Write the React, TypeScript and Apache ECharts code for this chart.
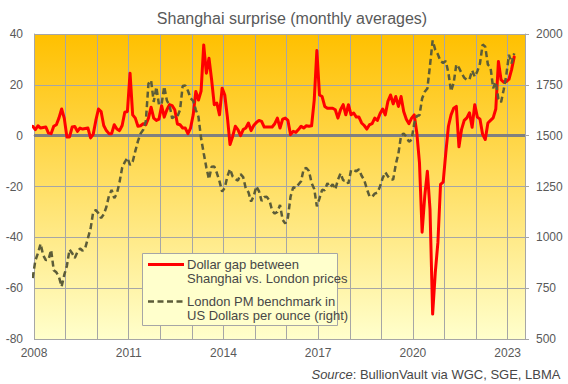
import React, { useEffect, useRef } from "react";
import * as echarts from "echarts";

const TITLE = "Shanghai surprise (monthly averages)";
const GAP_NAME = "Dollar gap between\nShanghai vs. London prices";
const GOLD_NAME = "London PM benchmark in\nUS Dollars per ounce (right)";
const SOURCE_ITALIC = "Source";
const SOURCE_REST = ": BullionVault via WGC, SGE, LBMA";

// first monthly observation (series run month by month from here)
const FIRST_YEAR = 2007;
const FIRST_MONTH = 12;

// Shanghai minus London gold price, US$ per ounce (left axis)
const dollarGap = [
  3.7, // Dec 2007
  2.4, 3.9, 3, 3.2, 3.4, 1, 0.8, 3.7, 4.3, 7, 10.5, 6.9, // 2008
  -0.5, -0.5, 3.4, 3.6, 1.7, 3, 2.6, 2.8, 3, -0.9, 0.5, 6, // 2009
  10.5, 9.5, 4, 2, 0.8, 0.8, 4.3, 2.6, 2, 4, 9.2, 9.5, // 2010
  24.6, 8.2, 6.9, 3.7, 3.9, 4.7, 4.3, 6.9, 11.2, 6.9, 6, 6.5, // 2011
  11.8, 7.3, 10.2, 12.2, 11.8, 10.2, 4.6, 4.3, 3, 3, 0.8, 3, // 2012
  8.2, 17.4, 14, 17.5, 35.7, 24.6, 30.5, 22, 12.2, 12.8, 8.2, 18.7, // 2013
  16, 7.3, -3.5, -0.3, 3.7, 2.4, 0, 2.4, 3, 5, 2, 4, // 2014
  5.2, 6, 5.6, 3.4, 3.4, 3.4, 3.4, 4.7, 6.9, 3, 6.5, 6.9, // 2015
  6, 0.4, 1.7, 1.3, 2.4, 3.7, 3, 3.9, 3.7, 3.9, 14, 33.5, // 2016
  16, 15.4, 11.5, 10.8, 10.8, 10.8, 10.2, 6.9, 10.2, 12.2, 8.2, 12.2, // 2017
  8.2, 8.9, 7.3, 7.3, 5, 4, 2.6, 4.3, 4.7, 6.9, 6, 8.6, // 2018
  10.5, 8.2, 13.5, 16, 12.5, 15.4, 11.5, 15.4, 9.5, 6.5, 4.7, 6.9, // 2019
  8.2, 1, -10.7, -38, -23.8, -14, -29, -70.2, -53.9, -42, -19.2, -18.3, // 2020
  -6.8, 3.7, 8.2, 10.8, 11.5, -4.4, 2.5, 6, 7, 9, 3.3, 12.2, // 2021
  7.3, 6.5, 0.5, -1.5, 5, 6, 7, 10.5, 29.2, 22, 21, 21.3, // 2022
  22.2, 26, 31, // 2023
];

// London PM gold benchmark, US$ per ounce, monthly average (right axis)
const londonPm = [
  800, // Dec 2007
  885, 922, 968, 912, 888, 890, 938, 838, 828, 805, 758, 815, // 2008
  860, 940, 922, 898, 928, 945, 934, 949, 996, 1043, 1125, 1134, // 2009
  1118, 1095, 1113, 1149, 1205, 1233, 1193, 1215, 1271, 1342, 1370, 1391, // 2010
  1356, 1372, 1424, 1473, 1510, 1529, 1572, 1756, 1772, 1666, 1739, 1652, // 2011
  1656, 1742, 1673, 1650, 1585, 1596, 1594, 1626, 1744, 1747, 1721, 1684, // 2012
  1671, 1627, 1593, 1487, 1414, 1343, 1286, 1347, 1349, 1316, 1275, 1225, // 2013
  1244, 1300, 1336, 1299, 1287, 1279, 1311, 1296, 1239, 1222, 1176, 1202, // 2014
  1251, 1227, 1179, 1198, 1199, 1181, 1131, 1117, 1125, 1159, 1086, 1068, // 2015
  1097, 1200, 1246, 1242, 1260, 1276, 1337, 1341, 1326, 1267, 1238, 1152, // 2016
  1192, 1234, 1231, 1266, 1246, 1260, 1236, 1283, 1315, 1280, 1282, 1265, // 2017
  1331, 1331, 1325, 1335, 1303, 1282, 1238, 1202, 1199, 1215, 1220, 1250, // 2018
  1291, 1320, 1300, 1285, 1284, 1359, 1413, 1500, 1511, 1495, 1470, 1480, // 2019
  1560, 1597, 1600, 1683, 1716, 1732, 1846, 1968, 1922, 1900, 1866, 1858, // 2020
  1867, 1808, 1718, 1760, 1850, 1834, 1807, 1785, 1775, 1777, 1821, 1790, // 2021
  1817, 1856, 1948, 1937, 1849, 1836, 1733, 1764, 1681, 1664, 1726, 1798, // 2022
  1898, 1855, 1905, // 2023
];

const labelYears = [2008, 2011, 2014, 2017, 2020, 2023];
const xRange = [2008, 2023.55];
const leftRange = [-80, 40, 20];
const rightRange = [500, 2000, 250];

const FONT = '"Liberation Sans", Arial, sans-serif';
const GRID = "#A6A6A6";
const AXIS_TEXT = "#595959";
const BODY_TEXT = "#474747";

// each monthly value sits in the middle of its month on the year axis
function monthPosition(k: number): number {
  const m0 = FIRST_MONTH - 1 + k;
  const year = FIRST_YEAR + Math.floor(m0 / 12);
  const month = m0 % 12;
  return year + (month + 0.5) / 12;
}

function buildOption(): any {
  const gapData = dollarGap.map((v, k) => [monthPosition(k), v]);
  const goldData = londonPm.map((v, k) => [monthPosition(k), v]);

  return {
    animation: false,
    backgroundColor: "#ffffff",
    textStyle: { fontFamily: FONT },
    title: {
      text: TITLE,
      left: 292,
      top: 10,
      textAlign: "center",
      padding: 0,
      textStyle: { fontSize: 16, fontWeight: "normal", color: AXIS_TEXT, fontFamily: FONT },
    },
    grid: {
      left: 34,
      right: 43,
      top: 34,
      bottom: 45,
      show: true,
      borderWidth: 0,
      backgroundColor: {
        type: "linear",
        x: 0,
        y: 0,
        x2: 0,
        y2: 1,
        colorStops: [
          { offset: 0, color: "#FFC000" },
          { offset: 1, color: "#FFFFCC" },
        ],
      },
    },
    xAxis: {
      type: "value",
      min: xRange[0],
      max: xRange[1],
      interval: 1,
      axisLine: { show: true, lineStyle: { color: GRID, width: 1 } },
      axisTick: { show: false },
      splitLine: { show: true, lineStyle: { color: GRID, width: 1 } },
      axisLabel: {
        color: AXIS_TEXT,
        fontSize: 12,
        fontFamily: FONT,
        margin: 8,
        showMinLabel: true,
        showMaxLabel: true,
        formatter: (v: number) =>
          labelYears.indexOf(Math.round(v)) >= 0 && Math.abs(v - Math.round(v)) < 1e-6
            ? String(Math.round(v))
            : "",
      },
    },
    yAxis: [
      {
        type: "value",
        position: "left",
        min: leftRange[0],
        max: leftRange[1],
        interval: leftRange[2],
        axisLine: { show: true, lineStyle: { color: GRID, width: 1 } },
        axisTick: { show: false },
        splitLine: { show: true, lineStyle: { color: GRID, width: 1 } },
        axisLabel: {
          color: AXIS_TEXT,
          fontSize: 12,
          fontFamily: FONT,
          margin: 11,
          formatter: (v: number) => String(v),
        },
      },
      {
        type: "value",
        position: "right",
        min: rightRange[0],
        max: rightRange[1],
        interval: rightRange[2],
        axisLine: { show: true, lineStyle: { color: GRID, width: 1 } },
        axisTick: { show: true, length: 4, lineStyle: { color: GRID, width: 1 } },
        splitLine: { show: false },
        axisLabel: {
          color: AXIS_TEXT,
          fontSize: 12,
          fontFamily: FONT,
          margin: 11,
          formatter: (v: number) => String(v),
        },
      },
    ],
    series: [
      {
        name: GAP_NAME,
        type: "line",
        yAxisIndex: 0,
        data: gapData,
        showSymbol: false,
        symbol: "none",
        z: 2,
        lineStyle: { color: "#FF0000", width: 3, join: "round", cap: "round" },
        markLine: {
          silent: true,
          z: 1,
          symbol: ["none", "none"],
          label: { show: false },
          lineStyle: { color: "#808080", width: 3, type: "solid" },
          data: [{ yAxis: 0 }],
        },
      },
      {
        name: GOLD_NAME,
        type: "line",
        yAxisIndex: 1,
        data: goldData,
        showSymbol: false,
        symbol: "none",
        z: 3,
        lineStyle: { color: "#5C5C38", width: 2.5, type: [6, 3.5], cap: "butt" },
      },
    ],
    graphic: [
      {
        type: "rect",
        z: 100,
        shape: { x: 142.5, y: 253.5, width: 195, height: 72 },
        style: { fill: "#FFFFCC", stroke: GRID, lineWidth: 1 },
      },
      {
        type: "line",
        z: 101,
        shape: { x1: 148, y1: 264.5, x2: 184, y2: 264.5 },
        style: { stroke: "#FF0000", lineWidth: 3 },
      },
      {
        type: "text",
        z: 101,
        x: 187,
        y: 258,
        style: {
          text: GAP_NAME,
          fill: BODY_TEXT,
          fontSize: 13,
          fontFamily: FONT,
          lineHeight: 13.5,
          verticalAlign: "top",
          align: "left",
        },
      },
      {
        type: "line",
        z: 101,
        shape: { x1: 148, y1: 301.5, x2: 184, y2: 301.5 },
        style: { stroke: "#5C5C38", lineWidth: 2.5, lineDash: [6, 3.5] },
      },
      {
        type: "text",
        z: 101,
        x: 187,
        y: 295,
        style: {
          text: GOLD_NAME,
          fill: BODY_TEXT,
          fontSize: 13,
          fontFamily: FONT,
          lineHeight: 13.5,
          verticalAlign: "top",
          align: "left",
        },
      },
      {
        type: "text",
        z: 101,
        x: 560.5,
        y: 374,
        style: {
          text: "{i|" + SOURCE_ITALIC + "}" + SOURCE_REST,
          fill: BODY_TEXT,
          fontSize: 13,
          fontFamily: FONT,
          align: "right",
          verticalAlign: "middle",
          rich: {
            i: { fontStyle: "italic", fontSize: 13, fontFamily: FONT, fill: BODY_TEXT },
          },
        },
      },
    ],
  };
}

export default function App() {
  const ref = useRef<HTMLDivElement>(null);
  useEffect(() => {
    if (!ref.current) return;
    const chart = echarts.init(ref.current, null, { renderer: "svg" });
    chart.setOption(buildOption());
    return () => {
      chart.dispose();
    };
  }, []);
  return (
    <div
      ref={ref}
      style={{ position: "fixed", left: 0, top: 0, width: 568, height: 384, background: "#ffffff" }}
    />
  );
}
